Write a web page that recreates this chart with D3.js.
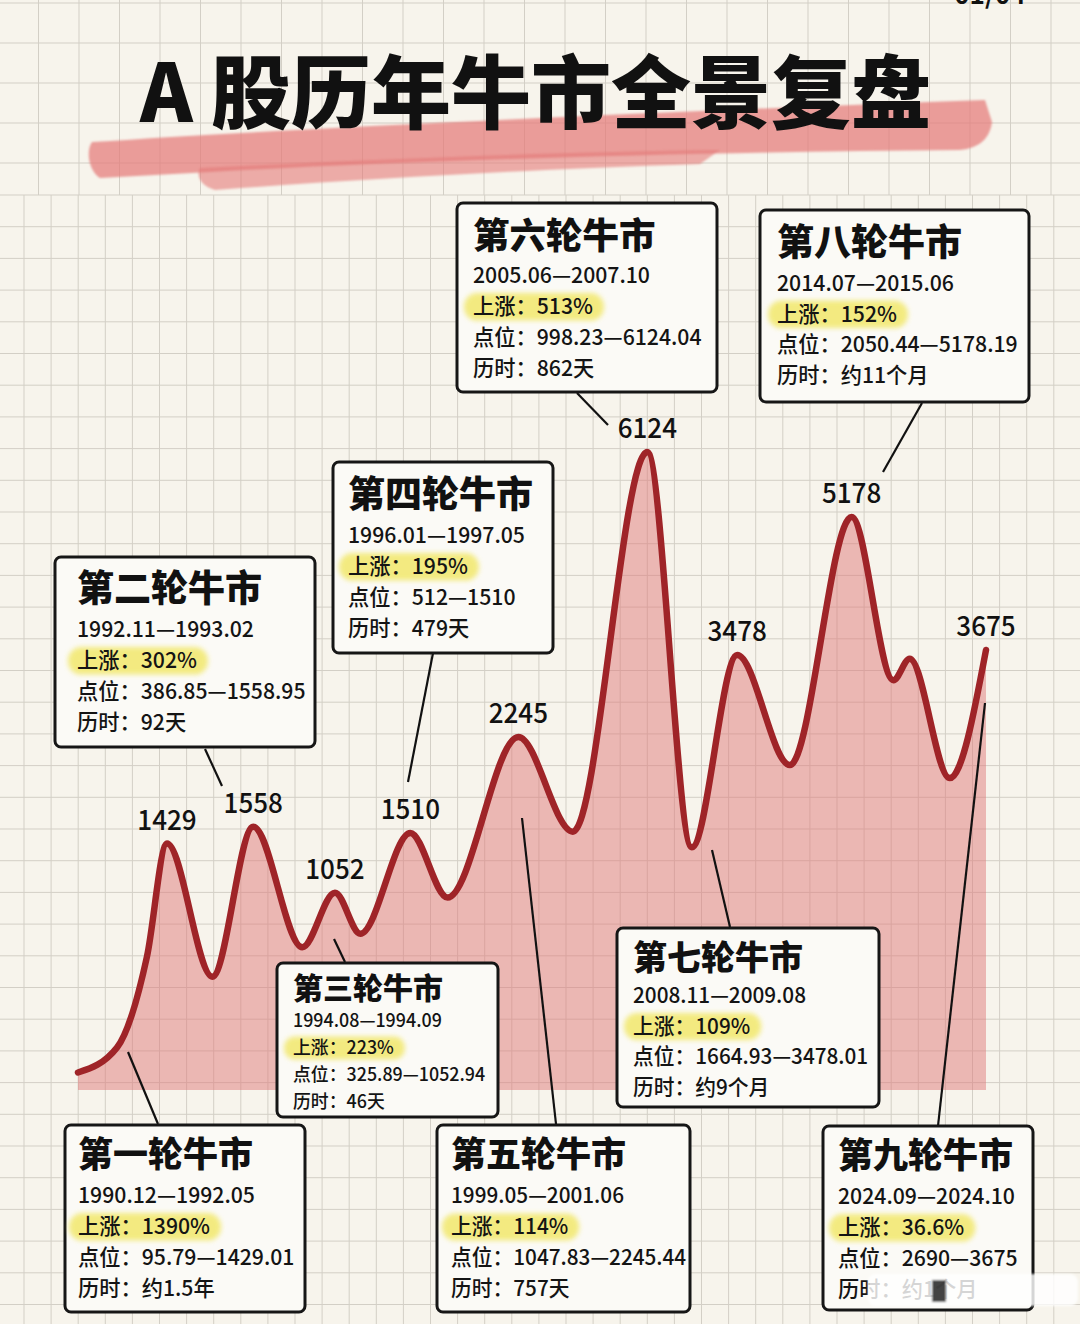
<!DOCTYPE html>
<html><head><meta charset="utf-8">
<script src="https://cdn.jsdelivr.net/npm/d3@7"></script>
<style>body{margin:0;background:#f7f4ec;} svg{display:block}</style>
</head><body><div id="chart"></div>
<script>
// ---------- DATA ----------
const pointU = [0, 4.3, 7.6, 9.8, 14.8, 19.3, 24.7, 28.3, 31.1, 36.6, 40.7, 48.5, 54.5, 62.7, 67.6, 72.6, 78.4, 85.2, 89.8, 91.6, 96.0, 100];
const pointV = [140, 340, 770, 1429, 680, 1558, 810, 1052, 870, 1510, 1030, 2245, 1520, 6124, 1400, 3478, 2030, 5178, 3100, 3420, 1930, 3675];
const peakIdx = [3, 5, 7, 9, 11, 13, 15, 17, 21];
const peakText = ["1429", "1558", "1052", "1510", "2245", "6124", "3478", "5178", "3675"];

const bullNames = ["第一轮牛市", "第二轮牛市", "第三轮牛市", "第四轮牛市", "第五轮牛市", "第六轮牛市", "第七轮牛市", "第八轮牛市", "第九轮牛市"];
const bullPeriods = ["1990.12—1992.05", "1992.11—1993.02", "1994.08—1994.09", "1996.01—1997.05", "1999.05—2001.06", "2005.06—2007.10", "2008.11—2009.08", "2014.07—2015.06", "2024.09—2024.10"];
const bullGains = ["1390%", "302%", "223%", "195%", "114%", "513%", "109%", "152%", "36.6%"];
const bullRanges = ["95.79—1429.01", "386.85—1558.95", "325.89—1052.94", "512—1510", "1047.83—2245.44", "998.23—6124.04", "1664.93—3478.01", "2050.44—5178.19", "2690—3675"];
const bullDurations = ["约1.5年", "92天", "46天", "479天", "757天", "862天", "约9个月", "约11个月", "约1个月"];

const titleText = "A 股历年牛市全景复盘";

// ---------- LAYOUT ----------
const W = 1080, H = 1324;
const CJK = "'Noto Sans CJK SC','Noto Sans',sans-serif";
const boxLayout = [
  {x:65, y:1125, w:240, h:187, ts:35, bs:22, tx:13, ty:42, ld:36, lg:31, line:[128,1052,158,1124]},
  {x:55, y:557, w:260, h:190, ts:37, bs:22, tx:22, ty:45, ld:35, lg:31, line:[205,749,222,786]},
  {x:277, y:963, w:221, h:154, ts:30, bs:18.5, tx:16, ty:36, ld:28, lg:27, line:[334,939,345,962]},
  {x:333, y:462, w:220, h:191, ts:37, bs:22, tx:15, ty:46, ld:35, lg:31, line:[433,653,408,782]},
  {x:437, y:1125, w:253, h:187, ts:35, bs:21.5, tx:14, ty:42, ld:36, lg:31, line:[522,818,556,1124]},
  {x:457, y:203, w:260, h:189, ts:36.5, bs:22, tx:16, ty:46, ld:34, lg:31, line:[577,393,608,425]},
  {x:617, y:928, w:262, h:179, ts:34, bs:21.5, tx:16, ty:42, ld:33, lg:30.5, line:[712,850,730,927]},
  {x:760, y:210, w:269, h:192, ts:37, bs:22, tx:17, ty:46, ld:35, lg:30.5, line:[922,403,883,472]},
  {x:823, y:1126, w:210, h:184, ts:35, bs:22, tx:15, ty:42, ld:36, lg:31, line:[985,703,938,1126]}
];

const svg = d3.select("#chart").append("svg").attr("width", W).attr("height", H);
const defs = svg.append("defs");
defs.append("filter").attr("id", "blur2").attr("x", "-20%").attr("y", "-50%").attr("width", "140%").attr("height", "200%")
  .append("feGaussianBlur").attr("stdDeviation", 2.5);
defs.append("filter").attr("id", "blur1").attr("x", "-20%").attr("y", "-50%").attr("width", "140%").attr("height", "200%")
  .append("feGaussianBlur").attr("stdDeviation", 1.2);

svg.append("rect").attr("width", W).attr("height", H).attr("fill", "#f7f4ec");

// grid
const grid = svg.append("g").attr("stroke", "#d3cfc6").attr("stroke-width", 1);
const gxTop = d3.range(-2, W, 40.5), gyTop = d3.range(3, 195, 40);
gxTop.forEach(x => grid.append("line").attr("x1", x).attr("x2", x).attr("y1", 0).attr("y2", 195));
gyTop.forEach(y => grid.append("line").attr("x1", 0).attr("x2", W).attr("y1", y).attr("y2", y));
const gx = d3.range(24, W, 27.1), gy = d3.range(195, H, 31.7);
gx.forEach(x => grid.append("line").attr("x1", x).attr("x2", x).attr("y1", 195).attr("y2", H));
gy.forEach(y => grid.append("line").attr("x1", 0).attr("x2", W).attr("y1", y).attr("y2", y));

// title brush + title
const brush = svg.append("g").attr("filter", "url(#blur1)");
brush.append("path").attr("d", "M92,142 C300,128 650,112 985,100 L992,122 C990,138 980,148 960,150 C700,152 420,160 210,172 L100,178 C88,170 86,150 92,142 Z")
  .attr("fill", "#e47a78").attr("opacity", 0.72);
brush.append("path").attr("d", "M200,168 C400,158 560,152 720,150 L700,164 C520,170 380,178 215,190 C200,186 196,175 200,168 Z")
  .attr("fill", "#e47a78").attr("opacity", 0.6);
svg.append("text").attr("x", 140).attr("y", 122).attr("font-family", CJK).attr("font-weight", 900)
  .attr("font-size", 80).attr("fill", "#111").text(titleText);
svg.append("text").attr("x", 990).attr("y", 4).attr("text-anchor", "middle").attr("font-family", CJK)
  .attr("font-weight", 700).attr("font-size", 26).attr("fill", "#111").text("01/04");

// scales
const x = d3.scaleLinear().domain([0, 100]).range([78, 986]);
const y = d3.scaleLinear().domain([0, 400, 1050, 2245, 3478, 3675, 5178, 6124])
  .range([1090, 1040, 893, 737, 655, 650, 517, 452]);

const pts = pointU.map((u, i) => ({u, v: pointV[i]}));
const area = d3.area().x(d => x(d.u)).y0(y(0)).y1(d => y(d.v)).curve(d3.curveMonotoneX);
const line = d3.line().x(d => x(d.u)).y(d => y(d.v)).curve(d3.curveMonotoneX);

svg.append("path").datum(pts).attr("d", area).attr("fill", "#e07a7a").attr("opacity", 0.5);
svg.append("path").datum(pts).attr("d", line).attr("fill", "none").attr("stroke", "#9f2428")
  .attr("stroke-width", 6.5).attr("stroke-linejoin", "round").attr("stroke-linecap", "round");

// peak labels
svg.append("g").selectAll("text").data(peakIdx).join("text")
  .attr("x", i => x(pointU[i])).attr("y", i => y(pointV[i]) - 14)
  .attr("text-anchor", "middle").attr("font-family", CJK).attr("font-weight", 500)
  .attr("font-size", 28).attr("fill", "#111").text((i, k) => peakText[k])
  .each(function() { const w = this.getComputedTextLength(); d3.select(this).attr("textLength", w * 0.93).attr("lengthAdjust", "spacingAndGlyphs"); });

// connector lines
svg.append("g").selectAll("line").data(boxLayout).join("line")
  .attr("x1", d => d.line[0]).attr("y1", d => d.line[1]).attr("x2", d => d.line[2]).attr("y2", d => d.line[3])
  .attr("stroke", "#111").attr("stroke-width", 2.2);

// boxes
boxLayout.forEach((b, i) => {
  const g = svg.append("g");
  g.append("rect").attr("x", b.x).attr("y", b.y).attr("width", b.w).attr("height", b.h).attr("rx", 6)
    .attr("fill", "#fbfaf6").attr("stroke", "#161616").attr("stroke-width", 3);
  const tx = b.x + b.tx;
  g.append("text").attr("x", tx).attr("y", b.y + b.ty).attr("font-family", CJK).attr("font-weight", 900)
    .attr("font-size", b.ts).attr("fill", "#111").text(bullNames[i]);
  const y1 = b.y + b.ty + b.ld;
  const body = (yy, s) => {
    const t = g.append("text").attr("x", tx).attr("y", yy).attr("font-family", CJK)
      .attr("font-weight", 500).attr("font-size", b.bs).attr("fill", "#141414").text(s);
    const w = t.node().getComputedTextLength();
    t.attr("textLength", w * 0.965).attr("lengthAdjust", "spacingAndGlyphs");
    return w * 0.965;
  };
  body(y1, bullPeriods[i]);
  const hlG = g.append("g");
  const wGain = body(y1 + b.lg, "上涨：" + bullGains[i]);
  hlG.append("rect").attr("x", tx - 9).attr("y", y1 + b.lg - b.bs * 0.95).attr("width", wGain + 20)
    .attr("height", b.bs * 1.25).attr("rx", b.bs * 0.6).attr("fill", "#f2e86c").attr("opacity", 0.85)
    .attr("filter", "url(#blur2)");
  body(y1 + 2 * b.lg, "点位：" + bullRanges[i]);
  body(y1 + 3 * b.lg, "历时：" + bullDurations[i]);
});

// watermark overlay (as in source image)
const wm = svg.append("g").attr("filter", "url(#blur1)");
wm.append("rect").attr("x", 868).attr("y", 1274).attr("width", 210).attr("height", 32).attr("rx", 8)
  .attr("fill", "#ffffff").attr("opacity", 0.82);
wm.append("rect").attr("x", 932).attr("y", 1280).attr("width", 14).attr("height", 22).attr("fill", "#222").attr("opacity", 0.85);
</script></body></html>
